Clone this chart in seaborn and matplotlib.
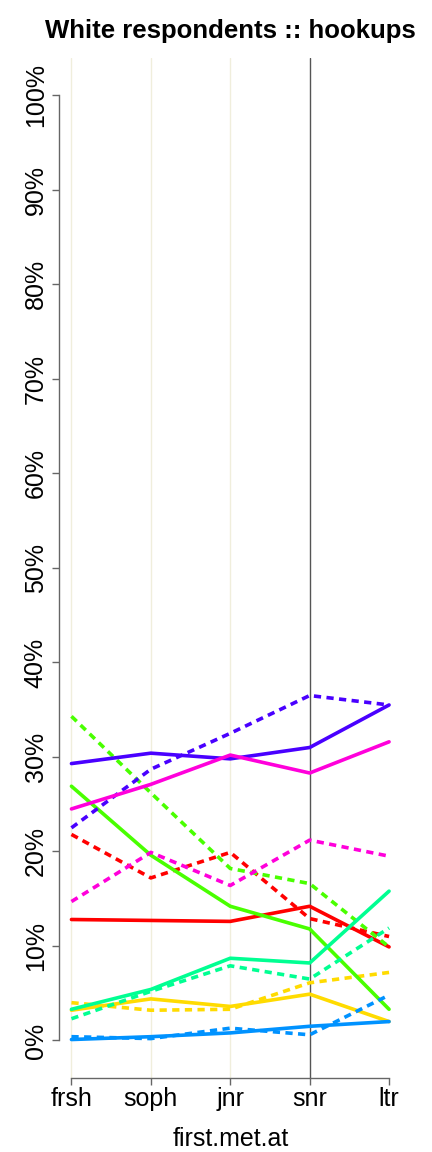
import matplotlib
matplotlib.use("Agg")
import matplotlib.pyplot as plt
import pandas as pd
import seaborn as sns

years = ["frsh", "soph", "jnr", "snr", "ltr"]
y_ticks = [0.0, 0.1, 0.2, 0.3, 0.4, 0.5, 0.6, 0.7, 0.8, 0.9, 1.0]
y_labels = [f"{int(round(t * 100))}%" for t in y_ticks]

# series: (group, line kind) -> share per year
red_solid = [0.128, 0.127, 0.126, 0.142, 0.099]
red_dashed = [0.218, 0.172, 0.199, 0.129, 0.110]
gold_solid = [0.032, 0.044, 0.036, 0.049, 0.020]
gold_dashed = [0.040, 0.032, 0.033, 0.061, 0.072]
lime_solid = [0.269, 0.196, 0.142, 0.118, 0.033]
lime_dashed = [0.343, 0.262, 0.182, 0.166, 0.099]
spring_solid = [0.033, 0.054, 0.087, 0.082, 0.158]
spring_dashed = [0.023, 0.052, 0.079, 0.065, 0.119]
azure_solid = [0.001, 0.004, 0.008, 0.015, 0.020]
azure_dashed = [0.004, 0.002, 0.013, 0.006, 0.048]
violet_solid = [0.293, 0.304, 0.298, 0.310, 0.355]
violet_dashed = [0.225, 0.287, 0.325, 0.365, 0.355]
magenta_solid = [0.245, 0.271, 0.302, 0.283, 0.316]
magenta_dashed = [0.147, 0.199, 0.164, 0.212, 0.195]

groups = ["g1", "g2", "g3", "g4", "g5", "g6", "g7"]
colors = ["#FF0000", "#FFDB00", "#49FF00", "#00FF92", "#0092FF", "#4900FF", "#FF00DB"]
series = {
    ("g1", "solid"): red_solid, ("g1", "dashed"): red_dashed,
    ("g2", "solid"): gold_solid, ("g2", "dashed"): gold_dashed,
    ("g3", "solid"): lime_solid, ("g3", "dashed"): lime_dashed,
    ("g4", "solid"): spring_solid, ("g4", "dashed"): spring_dashed,
    ("g5", "solid"): azure_solid, ("g5", "dashed"): azure_dashed,
    ("g6", "solid"): violet_solid, ("g6", "dashed"): violet_dashed,
    ("g7", "solid"): magenta_solid, ("g7", "dashed"): magenta_dashed,
}

rows = []
for (grp, kind), vals in series.items():
    for i, v in enumerate(vals):
        rows.append({"group": grp, "kind": kind, "pos": i + 1, "value": v})
df = pd.DataFrame(rows)

sns.set_style("white")
plt.rcParams["font.family"] = ["Liberation Sans", "DejaVu Sans"]

fig = plt.figure(figsize=(4.32, 11.52), dpi=100)
ax = fig.add_axes([0.136, 0.064, 0.794, 0.886])

# light guides at the first three years, dark one at snr
for x in [1, 2, 3]:
    ax.axvline(x, color="#F0EEDC", lw=1.0, zorder=0)
ax.axvline(4, color="#555555", lw=1.0, zorder=0)

sns.lineplot(
    data=df, x="pos", y="value", hue="group", style="kind",
    hue_order=groups, palette=dict(zip(groups, colors)),
    style_order=["solid", "dashed"], dashes={"solid": "", "dashed": (2.0, 1.5)},
    linewidth=2.6, legend=False, ax=ax, estimator=None, sort=False,
)

ax.set_xlim(0.84, 5.16)
ax.set_ylim(-0.04, 1.04)
ax.set_xticks(range(1, 6))
ax.set_xticklabels(years)
ax.set_yticks(y_ticks)
ax.set_yticklabels(y_labels, rotation=90, va="center")

for s in ["top", "right"]:
    ax.spines[s].set_visible(False)
ax.spines["left"].set_bounds(0, 1)
ax.spines["bottom"].set_bounds(1, 5)
for s in ["left", "bottom"]:
    ax.spines[s].set_color("#666666")
    ax.spines[s].set_linewidth(1.0)

ax.tick_params(axis="both", left=True, bottom=True, length=5, width=1.0,
               color="#666666", labelsize=18, labelcolor="black")
ax.tick_params(axis="y", pad=3)
ax.tick_params(axis="x", pad=1)

ax.set_xlabel("first.met.at", fontsize=18, labelpad=12, color="black")
ax.set_ylabel("")
ax.set_title("White respondents :: hookups", fontsize=18.5, fontweight="bold",
             pad=14, color="black")

fig.savefig("out.png", dpi=100)
